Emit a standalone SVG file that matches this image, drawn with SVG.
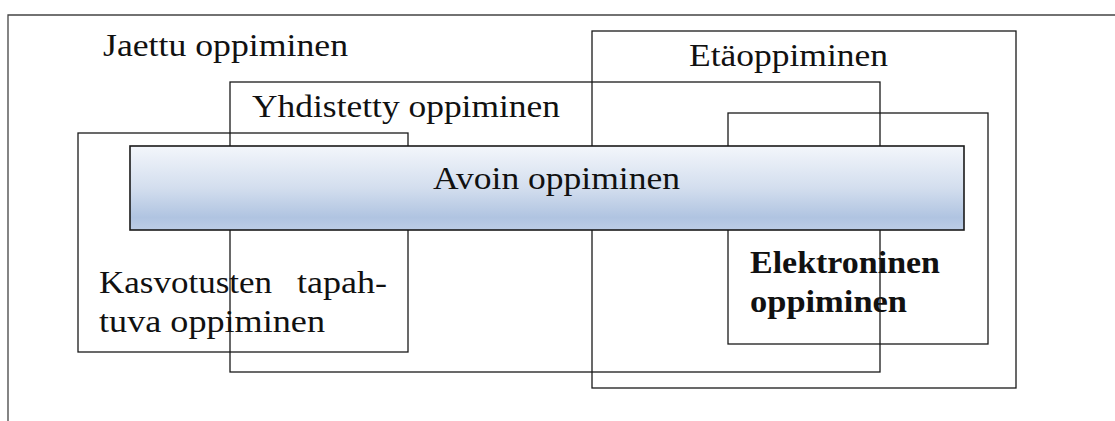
<svg xmlns="http://www.w3.org/2000/svg" width="1115" height="421" viewBox="0 0 1115 421">
  <style>
    .box { fill: none; stroke: #1a1a1a; stroke-width: 1.3; }
    .frame { fill: none; stroke: #444; stroke-width: 1.3; }
    .lbl { font-family: "Liberation Serif", "DejaVu Serif", serif; font-size: 31px; fill: #111; }
    .bold { font-weight: bold; }
  </style>
  <defs>
    <linearGradient id="barFill" x1="0" y1="0" x2="0" y2="1">
      <stop offset="0" stop-color="#f3f6fb"/>
      <stop offset="0.5" stop-color="#d3deee"/>
      <stop offset="0.85" stop-color="#b0c4e1"/>
      <stop offset="1" stop-color="#bccde6"/>
    </linearGradient>
  </defs>

  <!-- outer frame: top and left edges only -->
  <g id="frame">
    <polyline class="frame" points="8,421 8,15 1115,15"/>
    <text class="lbl" x="103" y="56" textLength="245" lengthAdjust="spacingAndGlyphs">Jaettu oppiminen</text>
  </g>

  <g id="etaoppiminen">
    <rect class="box" x="592" y="31" width="424" height="357"/>
    <text class="lbl" x="689" y="66" textLength="199" lengthAdjust="spacingAndGlyphs">Etäoppiminen</text>
  </g>

  <g id="yhdistetty">
    <rect class="box" x="230" y="82" width="650" height="290"/>
    <text class="lbl" x="252" y="117" textLength="308" lengthAdjust="spacingAndGlyphs">Yhdistetty oppiminen</text>
  </g>

  <g id="kasvotusten">
    <rect class="box" x="78" y="133" width="330" height="219"/>
    <!-- justified first line: two words placed separately -->
    <text class="lbl" x="99" y="293" textLength="173" lengthAdjust="spacingAndGlyphs">Kasvotusten</text>
    <text class="lbl" x="297" y="293" textLength="90" lengthAdjust="spacingAndGlyphs">tapah-</text>
    <text class="lbl" x="99" y="332" textLength="226" lengthAdjust="spacingAndGlyphs">tuva oppiminen</text>
  </g>

  <g id="elektroninen">
    <rect class="box" x="728" y="113" width="260" height="231"/>
    <text class="lbl bold" x="750" y="273" textLength="190" lengthAdjust="spacingAndGlyphs">Elektroninen</text>
    <text class="lbl bold" x="750" y="312" textLength="157" lengthAdjust="spacingAndGlyphs">oppiminen</text>
  </g>

  <g id="avoin">
    <rect x="130" y="146" width="834" height="84" fill="url(#barFill)" stroke="#1a1a1a" stroke-width="1.6"/>
    <text class="lbl" x="433" y="189" textLength="247" lengthAdjust="spacingAndGlyphs">Avoin oppiminen</text>
  </g>

  <g id="connectors"></g>
</svg>
